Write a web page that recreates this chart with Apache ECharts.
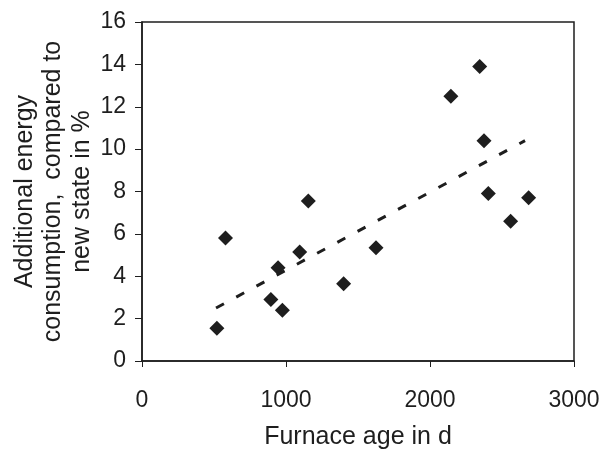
<!DOCTYPE html>
<html>
<head>
<meta charset="utf-8">
<script src="https://cdn.jsdelivr.net/npm/echarts@6/dist/echarts.min.js"></script>
<style>
  html, body { margin: 0; padding: 0; background: #fff; }
  #chart { width: 601px; height: 454px; }
</style>
</head>
<body>
<div id="chart"></div>
<script>
// Furnace age (d) vs additional energy consumption (%)
var furnaceAge = [520, 580, 895, 945, 975, 1095, 1155, 1400, 1625, 2145, 2345, 2375, 2405, 2560, 2685];
var extraEnergy = [1.55, 5.8, 2.9, 4.4, 2.4, 5.15, 7.55, 3.65, 5.35, 12.5, 13.9, 10.4, 7.9, 6.6, 7.7];
// linear trend endpoints
var trendAge = [514, 2660];
var trendEnergy = [2.5, 10.4];

var xTicks = [0, 1000, 2000, 3000];
var yTicks = [0, 2, 4, 6, 8, 10, 12, 14, 16];

var ink = '#1e1e1e';
var font = 'Liberation Sans, Arial, sans-serif';

var chartDom = document.getElementById('chart');
var myChart = echarts.init(chartDom);
var option = {
    animation: false,
    backgroundColor: '#fff',
    grid: {
        left: 142,
        right: 27,
        top: 22,
        bottom: 93,
        containLabel: false,
        outerBoundsMode: 'none',
        show: true,
        borderColor: ink,
        borderWidth: 1.5
    },
    xAxis: {
        type: 'value',
        min: xTicks[0],
        max: xTicks[xTicks.length - 1],
        interval: 1000,
        name: 'Furnace age in d',
        nameLocation: 'middle',
        nameGap: 64,
        nameMoveOverlap: false,
        nameTextStyle: { fontFamily: font, fontSize: 25, color: ink },
        axisLine: { show: true, lineStyle: { color: ink, width: 1.5 } },
        axisTick: { show: true, length: 6, lineStyle: { color: ink } },
        axisLabel: {
            fontFamily: font, fontSize: 23, color: ink, margin: 28,
            formatter: function (v) { return String(v); }
        },
        splitLine: { show: false }
    },
    yAxis: {
        type: 'value',
        min: yTicks[0],
        max: yTicks[yTicks.length - 1],
        interval: 2,
        name: 'Additional energy\nconsumption,  compared to\nnew state in %',
        nameLocation: 'middle',
        nameRotate: 90,
        nameGap: 46,
        nameMoveOverlap: false,
        nameTextStyle: { fontFamily: font, fontSize: 25, color: ink, lineHeight: 28.5 },
        axisLine: { show: true, lineStyle: { color: ink, width: 1.5 } },
        axisTick: { show: true, length: 7, lineStyle: { color: ink } },
        axisLabel: {
            fontFamily: font, fontSize: 23, color: ink, margin: 16,
            formatter: function (v) { return String(v); }
        },
        splitLine: { show: false }
    },
    series: [
        {
            name: 'Trend',
            type: 'line',
            data: trendAge.map(function (x, i) { return [x, trendEnergy[i]]; }),
            showSymbol: false,
            symbol: 'none',
            lineStyle: { color: ink, width: 3, type: [9, 14] },
            z: 1
        },
        {
            name: 'Measured',
            type: 'scatter',
            data: furnaceAge.map(function (x, i) { return [x, extraEnergy[i]]; }),
            symbol: 'diamond',
            symbolSize: 15,
            itemStyle: { color: ink, opacity: 1 },
            z: 2
        }
    ]
};
option && myChart.setOption(option);
</script>
</body>
</html>
